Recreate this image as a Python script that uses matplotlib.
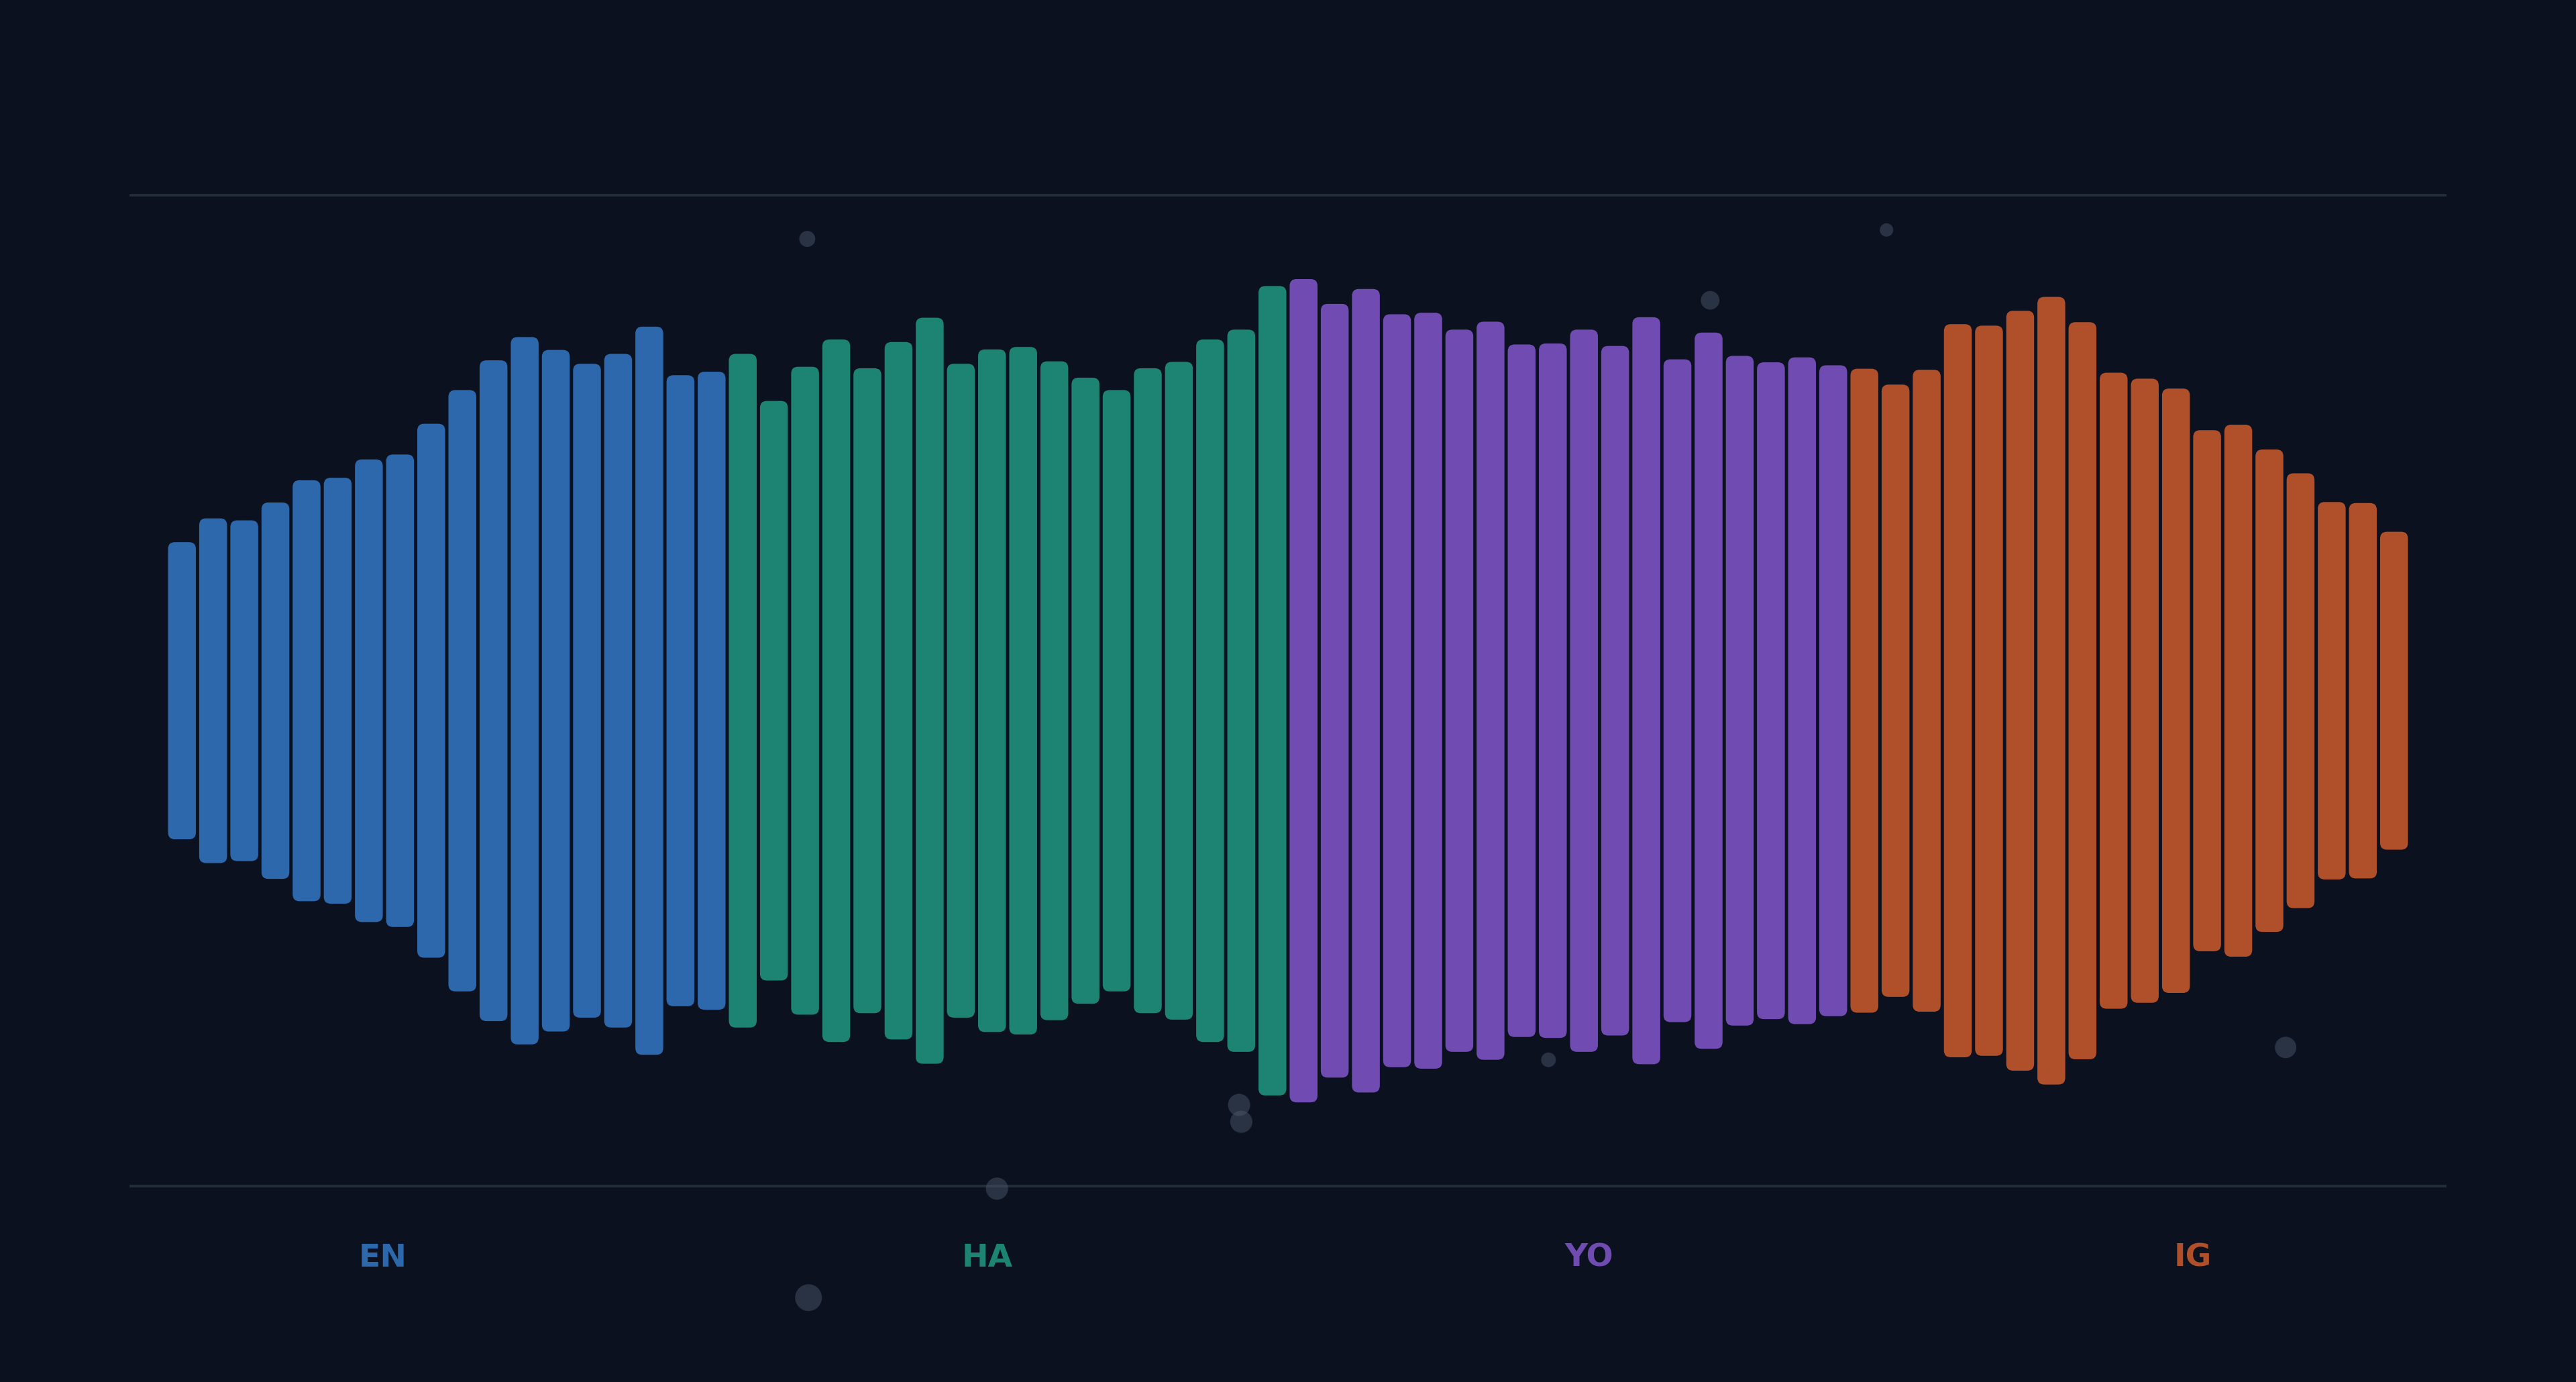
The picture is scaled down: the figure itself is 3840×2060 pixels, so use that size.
import numpy as np
import matplotlib
matplotlib.use("Agg")
import matplotlib.pyplot as plt
from matplotlib.patches import FancyBboxPatch


# half amplitude of every bar, one list per language (18 frames each)
en_values = [0.301, 0.349, 0.345, 0.381, 0.426, 0.431, 0.468, 0.478, 0.540,
             0.608, 0.668, 0.715, 0.689, 0.661, 0.681, 0.736, 0.638, 0.645]
ha_values = [0.681, 0.586, 0.655, 0.710, 0.652, 0.705, 0.754, 0.661, 0.690,
             0.695, 0.666, 0.633, 0.608, 0.652, 0.665, 0.710, 0.730, 0.818]
yo_values = [0.832, 0.782, 0.812, 0.761, 0.764, 0.730, 0.746, 0.700, 0.702,
             0.730, 0.697, 0.755, 0.670, 0.724, 0.677, 0.664, 0.674, 0.658]
ig_values = [0.651, 0.619, 0.649, 0.741, 0.738, 0.768, 0.796, 0.745, 0.643,
             0.631, 0.611, 0.527, 0.538, 0.488, 0.440, 0.382, 0.380, 0.322]

languages = ["EN", "HA", "YO", "IG"]
lang_colors = ["#2d67ac", "#1d8373", "#704cb2", "#b0502b"]

# decorative particles (x in frame index, y in amplitude, size in pt^2)
dot_x = [20.07, 54.71, 49.05, 43.86, 33.93, 34.00, 26.16, 20.11, 67.52]
dot_y = [0.912, 0.930, 0.788, -0.745, -0.836, -0.870, -1.005, -1.225, -0.720]
dot_s = [74, 52, 100, 62, 142, 142, 142, 207, 132]


bg = "#0b111e"
grid_col = "#222c3a"

all_values = [en_values, ha_values, yo_values, ig_values]
values = np.concatenate(all_values)
colors = []
for vals, col in zip(all_values, lang_colors):
    colors += [col] * len(vals)
xs = np.arange(len(values))

fig = plt.figure(figsize=(19.2, 10.3), dpi=200)
fig.patch.set_facecolor(bg)
ax_pos = [0.0508, 0.1417, 0.8984, 0.717]
ax = fig.add_axes(ax_pos)
ax.set_facecolor(bg)
xlim = (-1.64, len(values) - 1 + 1.64)
ylim = (-1.0, 1.0)
ax.set_xlim(xlim)
ax.set_ylim(ylim)
ax.axis("off")

# pixel scale of data units, needed to get round corners right
px_x = ax_pos[2] * 3840 / (xlim[1] - xlim[0])
px_y = ax_pos[3] * 2060 / (ylim[1] - ylim[0])
radius_px = 11
rnd = radius_px / px_x
aspect = (radius_px / px_y) / rnd

bar_w = 0.93
for x, v, c in zip(xs, values, colors):
    patch = FancyBboxPatch((x - bar_w / 2, -v), bar_w, 2 * v,
                           boxstyle="round,pad=0,rounding_size=%f" % rnd,
                           mutation_aspect=aspect,
                           facecolor=c, edgecolor="#0b111e", linewidth=0.6,
                           zorder=3)
    ax.add_patch(patch)

# frame lines top and bottom
ax.axhline(1.0, color=grid_col, lw=1.4, clip_on=False, zorder=1)
ax.axhline(-1.0, color=grid_col, lw=1.4, clip_on=False, zorder=1)

ax.scatter(dot_x, dot_y, s=dot_s, color="#4a5568", alpha=0.5,
           linewidths=0, clip_on=False, zorder=4)

# language names under the wave (x in axes fraction, y in data)
label_pos = [0.109, 0.370, 0.630, 0.891]
for lab, col, px in zip(languages, lang_colors, label_pos):
    ax.text(px, -1.145, lab, transform=ax.get_yaxis_transform(),
            color=col, fontsize=17, fontweight="bold", ha="center", va="center")

plt.savefig("out.png", dpi=200, facecolor=bg)
